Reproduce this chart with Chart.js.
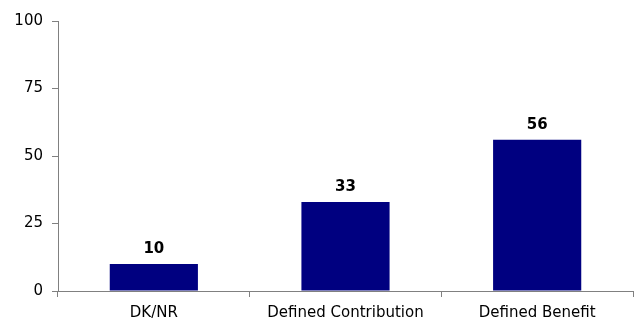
<!DOCTYPE html>
<html>
<head>
<meta charset="utf-8">
<script src="https://cdn.jsdelivr.net/npm/chart.js@4/dist/chart.umd.min.js"></script>
<style>
  html, body { margin: 0; padding: 0; background: #fff; }
  #wrap { width: 637px; height: 320px; }
</style>
</head>
<body>
<div id="wrap"><canvas id="barChart" width="637" height="320"></canvas></div>
<script>
// 数据
const categories = ["DK/NR", "Defined Contribution", "Defined Benefit"];
const values = [10, 33, 56];
const yTicks = [0, 25, 50, 75, 100];

const axisGray = "#808080";
const barColor = "#000080";

// 柱顶数值标签
const valueLabels = {
  id: "valueLabels",
  afterDatasetsDraw(chart) {
    const ctx = chart.ctx;
    const meta = chart.getDatasetMeta(0);
    ctx.save();
    ctx.font = "bold 15px 'DejaVu Sans'";
    ctx.fillStyle = "#000";
    ctx.textAlign = "center";
    ctx.textBaseline = "alphabetic";
    meta.data.forEach((bar, i) => {
      ctx.fillText(String(values[i]), bar.x, bar.y - 11);
    });
    ctx.restore();
  }
};

new Chart(document.getElementById("barChart").getContext("2d"), {
  type: "bar",
  data: {
    labels: categories,
    datasets: [{
      data: values,
      backgroundColor: barColor,
      borderWidth: 0,
      categoryPercentage: 1,
      barPercentage: 0.46
    }]
  },
  options: {
    responsive: false,
    animation: false,
    events: [],
    layout: { padding: { top: 21, right: 4, left: 0, bottom: 0 } },
    plugins: {
      legend: { display: false },
      tooltip: { enabled: false }
    },
    scales: {
      x: {
        grid: { display: true, drawOnChartArea: false, drawTicks: true, tickLength: 6, color: axisGray, offset: true },
        border: { color: axisGray, width: 1 },
        ticks: { color: "#000", font: { family: "'DejaVu Sans'", size: 15 }, padding: 7, maxRotation: 0 },
        afterFit(scale) { scale.height = 29; }
      },
      y: {
        min: 0,
        max: 100,
        afterBuildTicks(scale) { scale.ticks = yTicks.map((v) => ({ value: v })); },
        grid: { display: true, drawOnChartArea: false, drawTicks: true, tickLength: 6, color: axisGray },
        border: { color: axisGray, width: 1 },
        ticks: { color: "#000", font: { family: "'DejaVu Sans'", size: 15 }, padding: 9 },
        afterFit(scale) { scale.width = 58; }
      }
    }
  },
  plugins: [valueLabels]
});
</script>
</body>
</html>
